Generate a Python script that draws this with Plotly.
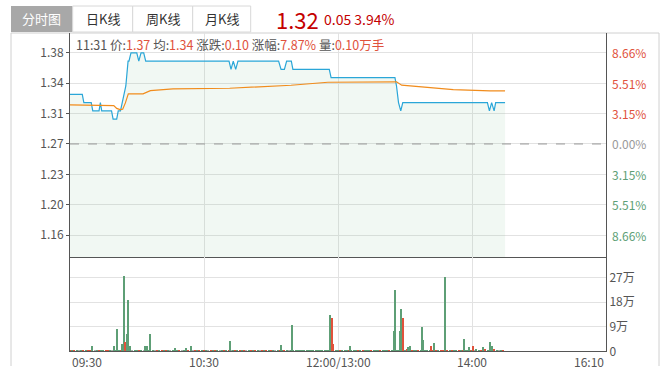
import plotly.graph_objects as go

W, H = 672, 372
FONT = "Noto Sans CJK SC, Noto Sans, sans-serif"

# ---------------- data ----------------
pre_close = 1.27
last_price = "1.32"
last_change = "0.05"
last_pct = "3.94%"

tabs = ["分时图", "日K线", "周K线", "月K线"]

time_ticks = [0, 60, 120, 180, 240]
time_labels = ["09:30", "10:30", "12:00/13:00", "14:00", "16:10"]

price_tick_vals = [1.38, 1.3433, 1.3067, 1.27, 1.2333, 1.1967, 1.16]
price_tick_text = ["1.38", "1.34", "1.31", "1.27", "1.23", "1.20", "1.16"]
pct_tick_text = ["8.66%", "5.51%", "3.15%", "0.00%", "3.15%", "5.51%", "8.66%"]
pct_tick_sign = [1, 1, 1, 0, -1, -1, -1]

# price polyline vertices (minute index, price)
price_t = [0, 5.5, 6.2, 9.5, 10.2, 13.0, 13.6, 14.2, 18.6, 19.3, 20.9, 21.6, 22.6,
           23.4, 24.2, 25.0, 26.0, 26.4, 27.3, 29.9, 30.8, 31.8, 33.0, 33.9,
           71.2, 72.1, 73.1, 74.2, 75.2, 93.4, 94.5, 96.0, 97.0, 99.1, 99.8,
           116.1, 116.9, 145.5, 146.2, 147.1, 148.1, 149.0,
           186.9, 187.8, 188.8, 189.9, 190.6, 194.8]
price_v = [1.33, 1.33, 1.32, 1.32, 1.31, 1.31, 1.32, 1.31, 1.31, 1.30, 1.30, 1.31, 1.31,
           1.32, 1.33, 1.34, 1.37, 1.37, 1.38, 1.38, 1.37, 1.38, 1.38, 1.37,
           1.37, 1.36, 1.37, 1.36, 1.37, 1.37, 1.36, 1.36, 1.37, 1.37, 1.36,
           1.36, 1.35, 1.35, 1.34, 1.32, 1.31, 1.32,
           1.32, 1.31, 1.32, 1.31, 1.32, 1.32]

# average-price polyline vertices
avg_t = [0, 18.7, 19.6, 20.9, 22.4, 23.6, 24.8, 26.1, 32.7, 36.0, 46.1, 71.5, 82.6,
         99.0, 115.5, 146.2, 148.5, 156.7, 165.7, 171.6, 188.1, 194.8]
avg_v = [1.3172, 1.3170, 1.3164, 1.3130, 1.3115, 1.3120, 1.3196, 1.3305, 1.3305,
         1.3344, 1.3365, 1.3373, 1.3385, 1.3409, 1.3445, 1.3450, 1.3410, 1.3390,
         1.3373, 1.3357, 1.3340, 1.3340]

# per-minute small volumes (万)
vol_small = [
    0.3, 0.2, 0.4, 0.3, 0.3, 0.2, 0.4, 0.3, 0.3, 0.5, 0.3, 0.3, 0.2, 0.4, 0.3,
    0.3, 0.5, 0.3, 0.4, 0.5, 0.3, 0.4, 0.6, 0.5, 0.4, 0.5, 0.6, 0.5, 0.4, 0.3,
    0.3, 0.3, 0.5, 0.4, 0.3, 0.5, 0.4, 0.3, 0.2, 0.3, 0.3, 0.2, 0.3, 0.3, 0.4,
    0.3, 0.3, 0.2, 0.3, 0.3, 0.3, 0.4, 0.3, 0.3, 0.2, 0.3, 0.3, 0.4, 0.3, 0.3,
    0.3, 0.2, 0.3, 0.3, 0.4, 0.3, 0.3, 0.2, 0.3, 0.3, 0.4, 0.3, 0.3, 0.5, 0.3,
    0.3, 0.4, 0.3, 0.5, 0.3, 0.3, 0.2, 0.3, 0.4, 0.3, 0.3, 0.2, 0.3, 0.3, 0.4,
    0.3, 0.3, 0.2, 0.5, 0.3, 0.4, 0.3, 0.3, 0.2, 0.3, 0.3, 0.2, 0.3, 0.2, 0.3,
    0.2, 0.3, 0.2, 0.3, 0.2, 0.3, 0.2, 0.3, 0.2, 0.3, 0.2, 0.3, 0.3, 0.3, 0.2,
    0.3, 0.4, 0.5, 0.3, 0.5, 0.4, 0.5, 0.3, 0.6, 0.4, 0.5, 0.3, 0.6, 0.4, 0.5,
    0.3, 0.6, 0.4, 0.5, 0.3, 0.6, 0.4, 0.5, 0.3, 0.5, 0.4, 0.3, 0.3, 0.3, 0.4,
    0.5, 0.7, 0.5, 0.6, 0.4, 0.5, 0.3, 0.5, 0.4, 0.5, 0.3, 0.5, 0.4, 0.6, 0.5,
    0.5, 0.4, 0.5, 0.6, 0.5, 0.4, 0.5, 0.3, 0.4, 0.5, 0.5, 0.6, 0.4, 0.5, 0.5,
    0.6, 0.5, 0.7, 0.5, 0.6, 0.8, 0.7, 0.6, 0.7, 0.5, 0.7, 0.6, 0.5, 0.6, 0.5,
]
vol_small_dir = ("rgrgngrgrrgngrg" "grrgngggrgrrgng" "grgnrgrgnrgrgrg" "ngrgrnggrgnrgrg"
                 "rgnrgrgngrgrngr" "grgrngrgrgnrgrg" "rgngrgrgngggggg" "ggggggggggggrgg"
                 "grgggrgggrgrggg" "rgggrgggrgrgggg" "grgrggrgrgggrgr" "grrgrgrggrgrggr"
                 "gnggrgrgrgrgngr")

# larger volume bars (minute position, 万, direction)
spike_t = [10.0, 19.5, 21.2, 23.4, 24.3, 24.8, 25.7, 26.1, 27.0, 33.7, 34.6, 36.0, 47.2, 52.0,
           54.3, 71.8, 94.6, 99.6, 116.5, 117.1, 117.9, 125.5, 145.2, 145.7, 147.9, 148.3,
           149.3, 151.5, 152.4, 157.8, 158.2, 161.8, 163.2, 168.0, 176.6, 178.8, 180.6,
           185.0, 188.2, 189.1]
spike_v = [1.9, 1.9, 8.2, 2.8, 27.5, 3.4, 6.4, 18.9, 1.8, 1.9, 1.9, 6.4, 1.3, 1.3,
           1.9, 3.8, 2.3, 9.7, 13.3, 12.1, 2.8, 1.9, 7.5, 22.5, 7.5, 15.5,
           12.1, 1.5, 1.8, 8.9, 4.2, 1.9, 3.1, 27.2, 4.5, 1.6, 1.9,
           1.6, 3.4, 1.9]
spike_dir = "gggggrgggggggggggggrrgggggrggggrggggrggggr"

vol_tick_vals = [0, 9, 18, 27]
vol_tick_text = ["0", "9万", "18万", "27万"]

hover_time = "11:31"
hover_fields = [("价:", "1.37"), ("均:", "1.34"), ("涨跌:", "0.10"), ("涨幅:", "7.87%"), ("量:", "0.10万手")]

# ---------------- styling ----------------
RED = "#e0523c"
GREEN = "#5e9f76"
GRAY_TXT = "#555555"
GRID = "#e2e2e2"
AXIS = "#555555"
DIR_COL = {"r": RED, "g": GREEN, "n": "#aaaaaa"}

def px(x):
    return x / W

def py(y):
    return 1 - y / H

X0, X1 = 70, 606
MAIN_T, MAIN_B = 33, 257
VOL_T, VOL_B = 257, 351.3

fig = go.Figure()

# price line with light fill
fig.add_trace(go.Scatter(x=price_t, y=price_v, mode="lines", fill="tozeroy",
                         fillcolor="rgba(120,190,140,0.10)",
                         line=dict(color="#2aa6d8", width=1.2), xaxis="x", yaxis="y",
                         hoverinfo="skip", showlegend=False))
fig.add_trace(go.Scatter(x=avg_t, y=avg_v, mode="lines",
                         line=dict(color="#f18c1c", width=1.2), xaxis="x", yaxis="y",
                         hoverinfo="skip", showlegend=False))

# volume bars
small_t = list(range(len(vol_small)))
fig.add_trace(go.Bar(x=small_t, y=vol_small, width=0.5,
                     marker=dict(color=[DIR_COL[c] for c in vol_small_dir], line=dict(width=0)),
                     xaxis="x2", yaxis="y2", hoverinfo="skip", showlegend=False))
fig.add_trace(go.Bar(x=spike_t, y=spike_v, width=0.45,
                     marker=dict(color=[DIR_COL[c] for c in spike_dir[:len(spike_t)]], line=dict(width=0)),
                     xaxis="x2", yaxis="y2", hoverinfo="skip", showlegend=False))

shapes = []
# pre-close dashed line
shapes.append(dict(type="line", xref="x domain", x0=0, x1=1, yref="y", y0=pre_close, y1=pre_close,
                   line=dict(color="#999999", width=1, dash="dash"), layer="above"))
# frame lines
shapes.append(dict(type="line", xref="paper", yref="paper", x0=px(11), x1=px(659), y0=py(33), y1=py(33),
                   line=dict(color="#d0d0d0", width=1), layer="below"))
shapes.append(dict(type="line", xref="paper", yref="paper", x0=px(11), x1=px(11), y0=py(33), y1=py(366),
                   line=dict(color="#d0d0d0", width=1), layer="below"))
shapes.append(dict(type="line", xref="paper", yref="paper", x0=px(659), x1=px(659), y0=py(33), y1=py(366),
                   line=dict(color="#d0d0d0", width=1), layer="below"))
# tabs
tab_edges = [11, 72.7, 132.7, 192.7, 250.7]
annotations = []
for i, name in enumerate(tabs):
    xa, xb = tab_edges[i], tab_edges[i + 1]
    if i == 0:
        shapes.append(dict(type="rect", xref="paper", yref="paper", x0=px(xa), x1=px(xb), y0=py(32), y1=py(6),
                           fillcolor="#a8a8a8", line=dict(width=0), layer="below"))
        col = "#ffffff"
    else:
        shapes.append(dict(type="rect", xref="paper", yref="paper", x0=px(xa), x1=px(xb), y0=py(32), y1=py(6),
                           fillcolor="#ffffff", line=dict(color="#d8d8d8", width=1), layer="below"))
        col = "#333333"
    annotations.append(dict(text=name, xref="paper", yref="paper", x=px((xa + xb) / 2), y=py(19),
                            xanchor="center", yanchor="middle", showarrow=False,
                            font=dict(family=FONT, size=13, color=col)))

# big price
annotations.append(dict(text=last_price, xref="paper", yref="paper", x=px(274), y=py(19),
                        xanchor="left", yanchor="middle", showarrow=False,
                        font=dict(family=FONT, size=22, color="#c40000")))
annotations.append(dict(text=f"{last_change} {last_pct}", xref="paper", yref="paper", x=px(322), y=py(19),
                        xanchor="left", yanchor="middle", showarrow=False,
                        font=dict(family=FONT, size=14, color="#c40000")))

# hover header line
hdr = f"<span style='color:{GRAY_TXT}'>{hover_time} </span>"
for lab, val in hover_fields:
    hdr += f"<span style='color:{GRAY_TXT}'>{lab}</span><span style='color:{RED}'>{val}</span> "
annotations.append(dict(text=hdr.strip(), xref="paper", yref="paper", x=px(74), y=py(44),
                        xanchor="left", yanchor="middle", showarrow=False,
                        font=dict(family=FONT, size=12.5, color=GRAY_TXT)))

# right percent labels
for v, t, s in zip(price_tick_vals, pct_tick_text, pct_tick_sign):
    col = RED if s > 0 else (GREEN if s < 0 else "#999999")
    annotations.append(dict(text=t, xref="paper", yref="y", x=px(610), y=v, xanchor="left",
                            yanchor="middle", showarrow=False,
                            font=dict(family=FONT, size=12, color=col)))

# time labels
for i, (tv, tl) in enumerate(zip(time_ticks, time_labels)):
    anchor = "left" if i == 0 else ("right" if i == len(time_ticks) - 1 else "center")
    annotations.append(dict(text=tl, xref="x2", yref="paper", x=tv, y=py(361), xanchor=anchor,
                            yanchor="middle", showarrow=False,
                            font=dict(family=FONT, size=12, color=GRAY_TXT)))

fig.update_layout(
    width=W, height=H, margin=dict(l=0, r=0, t=0, b=0, autoexpand=False),
    paper_bgcolor="white", plot_bgcolor="white",
    bargap=0, barmode="overlay", showlegend=False,
    font=dict(family=FONT, size=12, color=GRAY_TXT),
    xaxis=dict(domain=[px(X0), px(X1)], range=[0, 240], anchor="y", tickvals=time_ticks[1:4],
               showticklabels=False, showgrid=True, gridcolor=GRID, zeroline=False,
               showline=True, linecolor=AXIS, linewidth=1, ticks="", automargin=False),
    xaxis2=dict(domain=[px(X0), px(X1)], range=[0, 240], anchor="y2", tickvals=time_ticks[1:4],
                showticklabels=False, showgrid=True, gridcolor=GRID, zeroline=False,
                showline=True, linecolor=AXIS, linewidth=1, ticks="", automargin=False),
    yaxis=dict(domain=[py(MAIN_B), py(MAIN_T)], range=[1.1335, 1.404], anchor="x",
               tickvals=price_tick_vals, ticktext=price_tick_text, ticks="outside", ticklen=3,
               tickcolor=AXIS, showline=True, linecolor=AXIS, linewidth=1, mirror=True,
               showgrid=True, gridcolor=GRID, zeroline=False, automargin=False,
               tickfont=dict(family=FONT, size=12, color=GRAY_TXT)),
    yaxis2=dict(domain=[py(VOL_B), py(VOL_T)], range=[0, 34.6], anchor="x2", side="right",
                tickvals=vol_tick_vals, ticktext=vol_tick_text, ticks="", showline=True,
                linecolor=AXIS, linewidth=1, mirror=True, showgrid=True, gridcolor=GRID,
                zeroline=False, automargin=False, tickfont=dict(family=FONT, size=12, color=GRAY_TXT)),
    shapes=shapes, annotations=annotations,
)

fig.write_html("out.html", config={"displayModeBar": False},
               post_script="document.body.style.margin='0px';document.body.style.overflow='hidden';")
